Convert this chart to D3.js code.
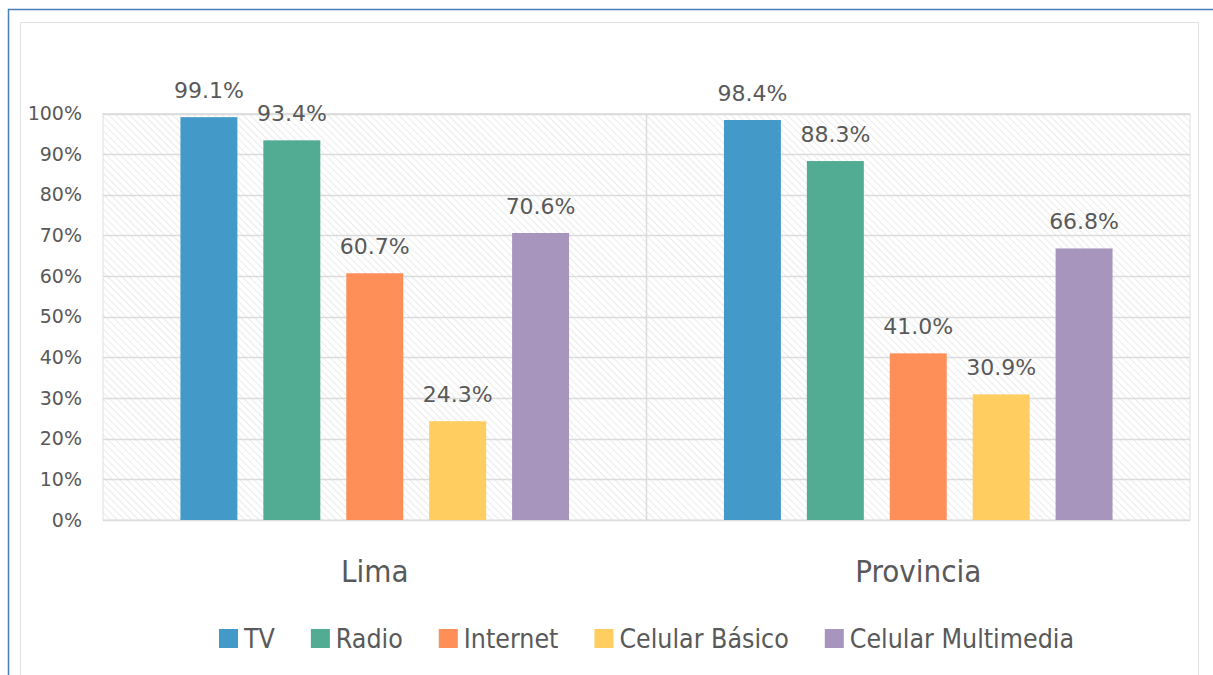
<!DOCTYPE html>
<html>
<head>
<meta charset="utf-8">
<script src="https://cdn.jsdelivr.net/npm/d3@7"></script>
<style>
    body { margin: 0; background: #fff; }
    .num { font-family: 'DejaVu Sans', sans-serif; fill: #595959; }
    .word { font-family: 'Liberation Sans Narrow', 'DejaVu Sans Condensed', 'Arial Narrow', sans-serif; font-stretch: condensed; fill: #595959; }
</style>
</head>
<body>
<div class="chart"></div>
<script>
const categories = ['Lima', 'Provincia'];
const series = ['TV', 'Radio', 'Internet', 'Celular Básico', 'Celular Multimedia'];
const limaValues = [99.1, 93.4, 60.7, 24.3, 70.6];
const provinciaValues = [98.4, 88.3, 41.0, 30.9, 66.8];
const yTicks = [0, 10, 20, 30, 40, 50, 60, 70, 80, 90, 100];
const colors = ['#4399c8', '#52ab93', '#ff8f59', '#ffcd60', '#a795be'];

const valuesByCategory = [limaValues, provinciaValues];

const width = 1213;
const height = 675;
const svg = d3.select('.chart')
    .append('svg')
    .attr('width', width)
    .attr('height', height);

// frame around the chart
svg.append('path')
    .attr('d', 'M8.5,' + height + ' V9.5 H' + width)
    .attr('fill', 'none')
    .attr('stroke', '#4a7ebb')
    .attr('stroke-width', 1.5);
svg.append('rect')
    .attr('x', 20.5)
    .attr('y', 22.5)
    .attr('width', 1178)
    .attr('height', 700)
    .attr('fill', 'none')
    .attr('stroke', '#e2e2e2');

// hatch for the plot background
const pattern = svg.append('defs')
    .append('pattern')
    .attr('id', 'hatch')
    .attr('patternUnits', 'userSpaceOnUse')
    .attr('width', 5)
    .attr('height', 5)
    .attr('patternTransform', 'rotate(-45)');
pattern.append('line')
    .attr('x1', 0).attr('y1', 0)
    .attr('x2', 0).attr('y2', 5)
    .attr('stroke', '#e0e0e0')
    .attr('stroke-width', 1.3);

const plotLeft = 103;
const plotRight = 1190;
const plotTop = 113.5;
const plotBottom = 520;

const x0 = d3.scaleBand()
    .domain(categories)
    .range([plotLeft, plotRight])
    .padding(0);

const x1 = d3.scaleBand()
    .domain(series)
    .range([0, x0.bandwidth()])
    .paddingInner(0.313)
    .paddingOuter(0.934);

const y = d3.scaleLinear()
    .domain([0, 100])
    .range([plotBottom, plotTop]);

svg.append('rect')
    .attr('x', plotLeft)
    .attr('y', y(100))
    .attr('width', plotRight - plotLeft)
    .attr('height', y(0) - y(100))
    .attr('fill', 'url(#hatch)')
    .attr('stroke', '#e0e0e0');

// horizontal grid
svg.selectAll('.grid')
    .data(yTicks)
    .enter()
    .append('line')
    .attr('class', 'grid')
    .attr('x1', plotLeft)
    .attr('x2', plotRight)
    .attr('y1', d => Math.round(y(d)) + 0.5)
    .attr('y2', d => Math.round(y(d)) + 0.5)
    .attr('stroke', '#dcdcdc')
    .attr('stroke-width', 1.5);

// vertical separators between categories
svg.selectAll('.sep')
    .data(categories.slice(1))
    .enter()
    .append('line')
    .attr('class', 'sep')
    .attr('x1', d => x0(d))
    .attr('x2', d => x0(d))
    .attr('y1', y(100))
    .attr('y2', y(0))
    .attr('stroke', '#dcdcdc')
    .attr('stroke-width', 1.5);

// y axis labels
const yAxis = svg.append('g')
    .attr('transform', 'translate(82,0)')
    .call(d3.axisLeft(y).tickValues(yTicks).tickFormat(d => d + '%').tickSize(0).tickPadding(0));
yAxis.select('.domain').remove();
yAxis.selectAll('text')
    .attr('class', 'num')
    .attr('font-size', '19px')
    .attr('font-family', null)
    .attr('fill', null);

// bars
const groups = svg.selectAll('.group')
    .data(categories)
    .enter()
    .append('g')
    .attr('class', 'group')
    .attr('transform', d => 'translate(' + x0(d) + ',0)');

groups.selectAll('.bar')
    .data((c, i) => valuesByCategory[i].map((v, j) => ({ series: series[j], value: v, color: colors[j] })))
    .enter()
    .append('rect')
    .attr('class', 'bar')
    .attr('x', d => x1(d.series))
    .attr('width', x1.bandwidth())
    .attr('y', d => y(d.value))
    .attr('height', d => y(0) - y(d.value))
    .attr('fill', d => d.color);

// value labels
groups.selectAll('.value-label')
    .data((c, i) => valuesByCategory[i].map((v, j) => ({ series: series[j], value: v })))
    .enter()
    .append('text')
    .attr('class', 'num')
    .attr('font-size', '22px')
    .attr('text-anchor', 'middle')
    .attr('x', d => x1(d.series) + x1.bandwidth() / 2)
    .attr('y', d => y(d.value) - 19)
    .text(d => d3.format('.1f')(d.value) + '%');

// category labels
svg.selectAll('.cat-label')
    .data(categories)
    .enter()
    .append('text')
    .attr('class', 'word')
    .attr('font-size', '31px')
    .attr('text-anchor', 'middle')
    .attr('x', d => x0(d) + x0.bandwidth() / 2)
    .attr('y', 582)
    .text(d => d);

// legend
const legend = svg.append('g');
const items = legend.selectAll('.legend-item')
    .data(series)
    .enter()
    .append('g')
    .attr('class', 'legend-item');
items.append('rect')
    .attr('width', 19)
    .attr('height', 19)
    .attr('y', 629)
    .attr('fill', (d, i) => colors[i]);
items.append('text')
    .attr('class', 'word')
    .attr('font-size', '26.5px')
    .attr('x', 25)
    .attr('y', 648)
    .text(d => d);

let cursor = 0;
items.each(function () {
    const item = d3.select(this);
    item.attr('transform', 'translate(' + cursor + ',0)');
    cursor += 25 + item.select('text').node().getComputedTextLength() + 36;
});
const legendWidth = cursor - 36;
legend.attr('transform', 'translate(' + ((plotLeft + plotRight) / 2 - legendWidth / 2) + ',0)');
</script>
</body>
</html>
